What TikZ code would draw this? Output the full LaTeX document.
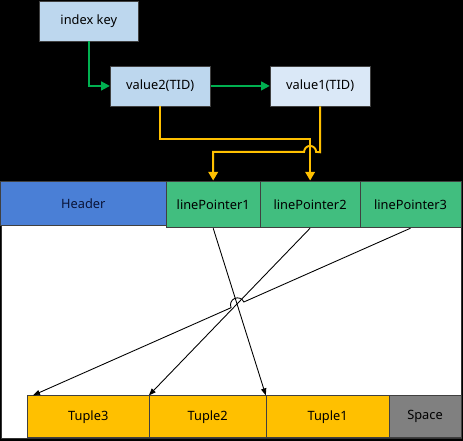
\documentclass[tikz,border=0pt]{standalone}
\usepackage{fontspec}
\setmainfont{Noto Sans}
\usetikzlibrary{arrows.meta}
\definecolor{azulclaro}{HTML}{BDD7EE}
\definecolor{azulpalido}{HTML}{DAE8F7}
\definecolor{azulhdr}{HTML}{4A7FD6}
\definecolor{azuloscuro}{HTML}{0A1438}
\definecolor{verdelp}{HTML}{41BE7F}
\definecolor{verde}{HTML}{00B050}
\definecolor{amarillo}{HTML}{FFC000}
\definecolor{gris}{HTML}{808080}
\begin{document}
\begin{tikzpicture}[x=0.02cm, y=-0.02cm,
    caja/.style={draw=black!75, line width=0.4pt, minimum height=0.8cm,
        inner sep=0pt, font=\fontsize{7.3}{9}\selectfont},
    flechaverde/.style={draw=verde, line width=1.1pt,
        -{Triangle[length=5pt, width=5pt]}},
    flechaamarilla/.style={draw=amarillo, line width=1.1pt,
        -{Triangle[length=5pt, width=5.5pt]}},
    flechanegra/.style={draw=black, line width=0.5pt,
        -{Triangle[length=4pt, width=3pt]}}]
    % Fondo
    \fill[black] (0,0) rectangle (463,441);
    \filldraw[white, draw=black!80] (1,226) rectangle (461,439);
    % Índice
    \node[caja, fill=azulclaro, minimum width=1.98cm] (key) at (88.5,21) {index key};
    \node[caja, fill=azulclaro, minimum width=2cm] (v2) at (160,86) {value2(TID)};
    \node[caja, fill=azulpalido, minimum width=2cm] (v1) at (320,86) {value1(TID)};
    % Página
    \node[caja, fill=azulhdr, minimum width=3.32cm,
        minimum height=0.9cm] (hdr) at (83,203.5) {\color{azuloscuro}Header};
    \foreach \n/\xc/\w in {1/213/1.88cm, 2/310/2cm, 3/410.5/2.02cm}{
        \node[caja, fill=verdelp, minimum width=\w, minimum height=0.94cm]
            (lp\n) at (\xc,204.5) {linePointer\n};
    }
    \foreach \n/\xc/\w in {3/88/2.44cm, 2/207.5/2.34cm, 1/327.5/2.46cm}{
        \node[caja, fill=amarillo, minimum width=\w, minimum height=0.84cm]
            (t\n) at (\xc,417) {Tuple\n};
    }
    \node[caja, fill=gris, minimum width=1.44cm, minimum height=0.84cm]
        (sp) at (425,417) {Space};
    % Flechas del índice
    \draw[flechaverde] (key.south) |- (v2.west);
    \draw[flechaverde] (v2.east) -- (v1.west);
    % TID -> linePointer
    \draw[flechaamarilla] (v2.south) -- ++(0,33) -| (lp2.north);
    \draw[flechaamarilla] (v1.south) -- ++(0,46) -- (316,152)
        arc (0:180:0.12cm) -| (lp1.north);
    % linePointer -> Tuple
    \draw[flechanegra] (lp1.south) -- (t1.north west);
    \draw[flechanegra] (lp2.south) -- (t2.north west);
    \draw[flechanegra] (lp3.south) -- (243.7,302.2)
        arc (24:204:0.14cm) -- ([xshift=0.12cm]t3.north west);
\end{tikzpicture}
\end{document}
